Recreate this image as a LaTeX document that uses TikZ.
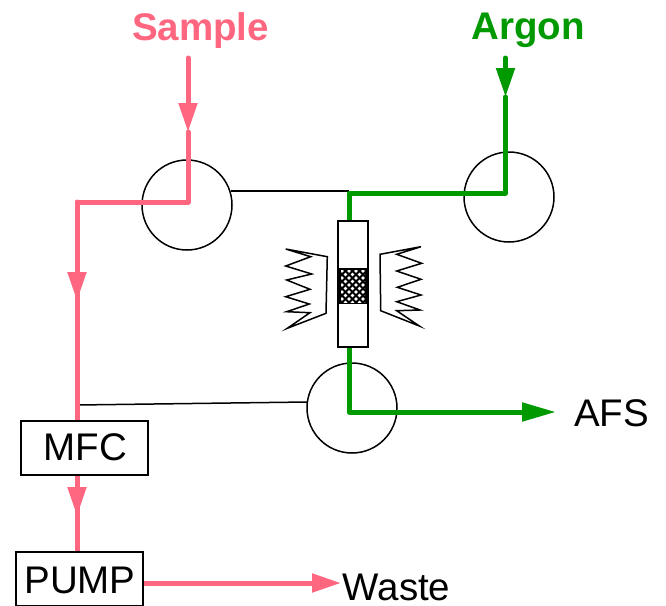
\documentclass[tikz,border=0pt]{standalone}
\usepackage{fontspec}
\setmainfont{Liberation Sans}
\usetikzlibrary{arrows.meta}

\definecolor{samplepink}{HTML}{FF6680}
\definecolor{argongreen}{HTML}{009900}

\tikzset{
	label/.style={inner sep=0pt,font=\fontsize{38.5}{40}\selectfont},
	boldlabel/.style={inner sep=0pt,font=\fontsize{38.5}{40}\selectfont\bfseries},
	valve/.style={draw,circle,line width=1.5pt,minimum size=90pt,inner sep=0pt},
	unit/.style={draw,line width=1.5pt,fill=white,minimum width=127pt,minimum height=54pt,inner sep=0pt},
	wire/.style={line width=1.5pt},
	heater/.style={line width=1.5pt,line join=miter},
	sampleflow/.style={samplepink,line width=5pt,line cap=round,line join=round},
	argonflow/.style={argongreen,line width=5pt,line cap=round,line join=round},
	tip/.style={-{Triangle[length=29pt,width=18pt]}},
	longtip/.style={-{Triangle[length=34pt,width=18pt]}},
}

\begin{document}
\begin{tikzpicture}[x=1pt,y=-1pt]

	\useasboundingbox (0,0) rectangle (666,605);

	\node[valve] (left) at (187,205) {};
	\node[valve] (right) at (509,197) {};
	\node[valve] (bottom) at (352,408) {};

	\node[boldlabel,samplepink,anchor=base] (sample) at (200.5,40) {Sample};
	\node[boldlabel,argongreen,anchor=base] (argon) at (528,39.5) {Argon};
	\node[label,anchor=base west] (afs) at (574,426) {AFS};
	\node[label,anchor=base west] (waste) at (342.5,600) {Waste};

	\coordinate (s1) at (188,58);
	\coordinate (s2) at (188,132);
	\coordinate (s3) at (188,202);
	\coordinate (s4) at (77,202);
	\coordinate (s5) at (77,301);
	\coordinate (s6) at (77,421);
	\coordinate (s7) at (77,475);
	\coordinate (s8) at (77,516);
	\coordinate (s9) at (77,552);
	\coordinate (s10) at (143,583);
	\coordinate (s11) at (341,583);

	\coordinate (a1) at (505.5,58);
	\coordinate (a2) at (505.5,97);
	\coordinate (a3) at (505.5,193);
	\coordinate (a4) at (349,193);
	\coordinate (a5) at (349,221);
	\coordinate (a6) at (349,347);
	\coordinate (a7) at (349,412);
	\coordinate (a8) at (556,412);

	\coordinate (w1) at (231,191);
	\coordinate (w2) at (349,191);
	\coordinate (w3) at (77,405);
	\coordinate (w4) at (307,402);

	\draw[wire] (w1) -- (w2);
	\draw[wire] (w3) -- (w4);

	\draw[sampleflow,tip] (s1) -- (s2);
	\draw[sampleflow] (s2) -- (s3) -- (s4) -- (s6);
	\draw[sampleflow,tip] (s4) -- (s5);
	\draw[sampleflow,tip] (s7) -- (s8);
	\draw[sampleflow] (s7) -- (s9);
	\draw[sampleflow,tip] (s10) -- (s11);

	\draw[argonflow,tip] (a1) -- (a2);
	\draw[argonflow] (a2) -- (a3) -- (a4) -- (a5);
	\draw[argonflow,longtip] (a6) -- (a7) -- (a8);

	\node[unit] (mfc) at (84.5,448) {};
	\node[label,anchor=base] at (85.5,460) {MFC};
	\node[unit] (pump) at (79.5,579) {};
	\node[label,anchor=base] at (80,593) {PUMP};

	\draw[wire,fill=white] (338,221) rectangle (368,347);
	\fill (339,268) rectangle (367,304);
	\begin{scope}
		\clip (341,270) rectangle (365,302);
		\foreach \i in {0,...,3}
			\foreach \j in {0,...,9}{
				\pgfmathsetmacro{\dotx}{342+7*\i+3.5*mod(\j,2)}
				\fill[white] (\dotx,271+3.5*\j) circle (1.9);
			}
	\end{scope}

	\draw[heater] (285.7,249) -- (327.3,256.7) -- (326,313.3) -- (287.3,328.3) -- (310,312.7) -- (286.7,311.7) -- (309.3,304) -- (285.7,296.7) -- (310,289.3) -- (286.7,280) -- (311.7,274) -- (285.7,266) -- (310.7,256.7) -- cycle;
	\draw[heater] (380,254.3) -- (421,246.7) -- (396.7,254.3) -- (421.7,263.3) -- (396.7,271) -- (421,279.3) -- (397.3,287.3) -- (421,295) -- (396.7,301.7) -- (420,310) -- (396.7,310.7) -- (419.3,326) -- (380.7,310.7) -- cycle;

\end{tikzpicture}
\end{document}
